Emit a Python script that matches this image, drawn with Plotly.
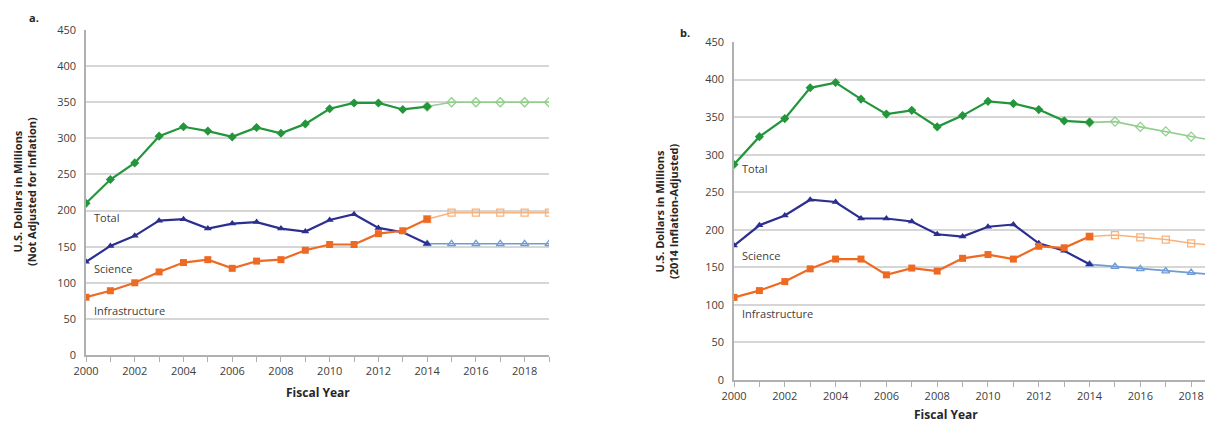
import plotly.graph_objects as go

years = list(range(2000, 2020))
actual_years = list(range(2000, 2015))
proj_years = list(range(2014, 2020))

# Panel a: not adjusted for inflation
a_total = [210, 243, 266, 303, 316, 310, 302, 315, 307, 320, 341, 349, 349, 340, 344]
a_total_proj = [344, 350, 350, 350, 350, 350]
a_science = [129, 151, 165, 186, 188, 175, 182, 184, 175, 171, 187, 195, 176, 170, 154]
a_science_proj = [154, 154, 154, 154, 154, 154]
a_infra = [80, 89, 100, 115, 128, 132, 120, 130, 132, 145, 153, 153, 168, 172, 188]
a_infra_proj = [188, 197, 197, 197, 197, 197]

# Panel b: 2014 inflation-adjusted
b_total = [287, 324, 348, 389, 396, 374, 354, 359, 337, 352, 371, 368, 360, 345, 343]
b_total_proj = [343, 344, 337, 331, 324, 318]
b_science = [179, 206, 219, 240, 237, 215, 215, 211, 194, 191, 204, 207, 182, 172, 154]
b_science_proj = [154, 151, 148, 145, 143, 140]
b_infra = [110, 119, 131, 148, 161, 161, 140, 149, 145, 162, 167, 161, 178, 176, 191]
b_infra_proj = [191, 193, 190, 187, 182, 179]

x_ticks = [2000, 2002, 2004, 2006, 2008, 2010, 2012, 2014, 2016, 2018]
y_ticks = [0, 50, 100, 150, 200, 250, 300, 350, 400, 450]

GREEN, GREEN_L = "#23963c", "#92cf8e"
BLUE, BLUE_L = "#2b2f8f", "#6f9bd6"
ORANGE, ORANGE_L = "#ee6a22", "#f8b27c"

fig = go.Figure()

def add_panel(xa, ya, tot, totp, sci, scip, inf, infp):
    for vals, proj, col, colL, sym in [
        (tot, totp, GREEN, GREEN_L, "diamond"),
        (sci, scip, BLUE, BLUE_L, "triangle-up"),
        (inf, infp, ORANGE, ORANGE_L, "square"),
    ]:
        fig.add_trace(go.Scatter(x=proj_years, y=proj, xaxis=xa, yaxis=ya, mode="lines+markers",
                                 line=dict(color=colL, width=1.6),
                                 marker=dict(symbol=sym + "-open", size=7, color=colL, line=dict(width=1.3)),
                                 showlegend=False))
        fig.add_trace(go.Scatter(x=actual_years, y=vals, xaxis=xa, yaxis=ya, mode="lines+markers",
                                 line=dict(color=col, width=2.2),
                                 marker=dict(symbol=sym, size=7, color=col),
                                 showlegend=False))

add_panel("x", "y", a_total, a_total_proj, a_science, a_science_proj, a_infra, a_infra_proj)
add_panel("x2", "y2", b_total, b_total_proj, b_science, b_science_proj, b_infra, b_infra_proj)

# the page body has an 8px margin, so figure coords = screen coords - 8
OFF = 8
W, H = 1213 - OFF, 423 - OFF
tickfont = dict(family="Open Sans, Liberation Sans, sans-serif", size=11, color="#404040")

def xaxis(l, r, rng):
    l -= OFF; r -= OFF
    return dict(domain=[l / W, min(r / W, 1)], range=rng, tickvals=x_ticks, ticks="outside", ticklen=5,
                tickcolor="#b0b0b0", showline=True, linecolor="#b0b0b0", linewidth=1.5,
                showgrid=False, zeroline=False, tickfont=tickfont, automargin=False,
                minor=dict(dtick=1, tick0=2000, ticks="outside", ticklen=5, tickcolor="#b0b0b0"))

def yaxis(t, b, anchor):
    t -= OFF; b -= OFF
    return dict(domain=[1 - b / H, 1 - t / H], range=[0, 450], tickvals=y_ticks, anchor=anchor,
                showline=True, linecolor="#b0b0b0", linewidth=1.5, showgrid=True,
                gridcolor="#d6d6d6", gridwidth=2, zeroline=False, tickfont=tickfont,
                ticklabelstandoff=6, automargin=False)

fig.update_layout(
    width=W, height=H, margin=dict(l=0, r=0, t=0, b=0, autoexpand=False),
    plot_bgcolor="white", paper_bgcolor="white",
    xaxis=dict(xaxis(86, 549, [2000, 2019]), anchor="y"),
    yaxis=yaxis(30, 355, "x"),
    xaxis2=dict(xaxis(734, 1213, [2000, 2018.86]), anchor="y2"),
    yaxis2=yaxis(42, 380, "x2"),
)

bold = dict(family="Open Sans, Liberation Sans, sans-serif", size=11, color="#262626")
lab = dict(family="Open Sans, Liberation Sans, sans-serif", size=11, color="#404040")
ann = []
def px(x, y, text, font, angle=0, xanchor="center"):
    x -= OFF; y -= OFF
    ann.append(dict(x=x / W, y=1 - y / H, xref="paper", yref="paper", text=text, showarrow=False,
                    font=font, textangle=angle, xanchor=xanchor, yanchor="middle"))

px(34, 18, "<b>a.</b>", bold)
px(685, 32, "<b>b.</b>", bold)
px(318, 392, "<b>Fiscal Year</b>", dict(bold, size=12))
px(946, 414, "<b>Fiscal Year</b>", dict(bold, size=12))
px(25, 192, "<b>U.S. Dollars in Millions<br>(Not Adjusted for Inflation)</b>", bold, angle=-90)
px(666, 211, "<b>U.S. Dollars in Millions<br>(2014 Inflation-Adjusted)</b>", bold, angle=-90)

for xr, yr, x0, items in [("x", "y", 2000.25, [("Total", 191), ("Science", 120), ("Infrastructure", 61)]),
                          ("x2", "y2", 2000.25, [("Total", 282), ("Science", 166), ("Infrastructure", 88)])]:
    for t, v in items:
        ann.append(dict(x=x0, y=v, xref=xr, yref=yr, text=t, showarrow=False, font=lab,
                        xanchor="left", yanchor="middle"))

fig.update_layout(annotations=ann)
fig.write_html("out.html")
